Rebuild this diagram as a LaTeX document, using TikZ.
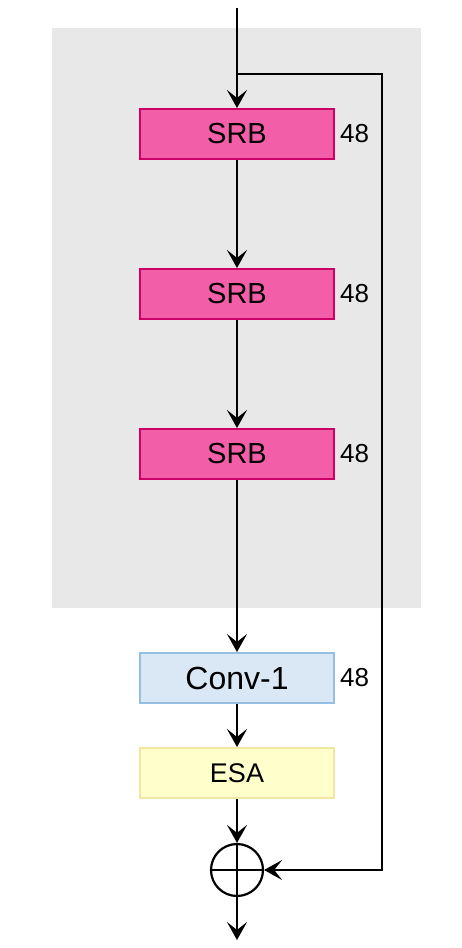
\documentclass[tikz,border=0pt]{standalone}
\usepackage{fontspec}
\setmainfont{Liberation Sans}
\usetikzlibrary{arrows.meta,positioning}
\definecolor{srbfill}{HTML}{F25FA8}
\definecolor{srbline}{HTML}{CC0066}
\definecolor{convfill}{HTML}{DAE8F6}
\definecolor{convline}{HTML}{94C0E3}
\definecolor{esafill}{HTML}{FFFFCC}
\definecolor{esaline}{HTML}{F2E6A0}
\definecolor{bggray}{HTML}{E8E8E8}

\begin{document}
\begin{tikzpicture}[x=1pt,y=-1pt,
  every node/.style={font=\fontsize{29}{32}\selectfont},
  blk/.style={draw, line width=2pt, minimum width=194pt, minimum height=50pt, inner sep=0pt},
  srb/.style={blk, fill=srbfill, draw=srbline},
  flow/.style={line width=2.8pt, -{Stealth[length=18pt,width=20pt,inset=8pt]}},
  num/.style={right=5pt, inner sep=0pt, font=\fontsize{26}{29}\selectfont}]
  \useasboundingbox (0,0) rectangle (462,948);
  \fill[bggray] (52,28) rectangle (421,608);

  \coordinate (top) at (237,8);
  \coordinate (split) at (237,74);
  \node[srb] (srbA) at (237,134) {SRB};
  \node[srb] (srbB) at (237,294) {SRB};
  \node[srb] (srbC) at (237,454) {SRB};
  \node[blk, fill=convfill, draw=convline, font=\fontsize{32}{35}\selectfont] (conv) at (237,678) {Conv-1};
  \node[blk, fill=esafill, draw=esaline, font=\fontsize{27}{30}\selectfont] (esa) at (237,773) {ESA};
  \node[circle, draw, line width=2.2pt, minimum size=52pt, inner sep=0pt] (plus) at (237,870) {};
  \draw[line width=2.2pt] (plus.north) -- (plus.south) (plus.west) -- (plus.east);
  \coordinate (out) at (237,940);

  \node[num] at (srbA.east) {48};
  \node[num] at (srbB.east) {48};
  \node[num] at (srbC.east) {48};
  \node[num] at (conv.east) {48};

  \draw[flow] (top) -- (srbA);
  \draw[flow] (srbA) -- (srbB);
  \draw[flow] (srbB) -- (srbC);
  \draw[flow] (srbC) -- (conv);
  \draw[flow] (conv) -- (esa);
  \draw[flow] (esa) -- (plus);
  \draw[flow] (plus) -- (out);
  \draw[flow] (split) -- (382,74) |- (plus.east);
\end{tikzpicture}
\end{document}
